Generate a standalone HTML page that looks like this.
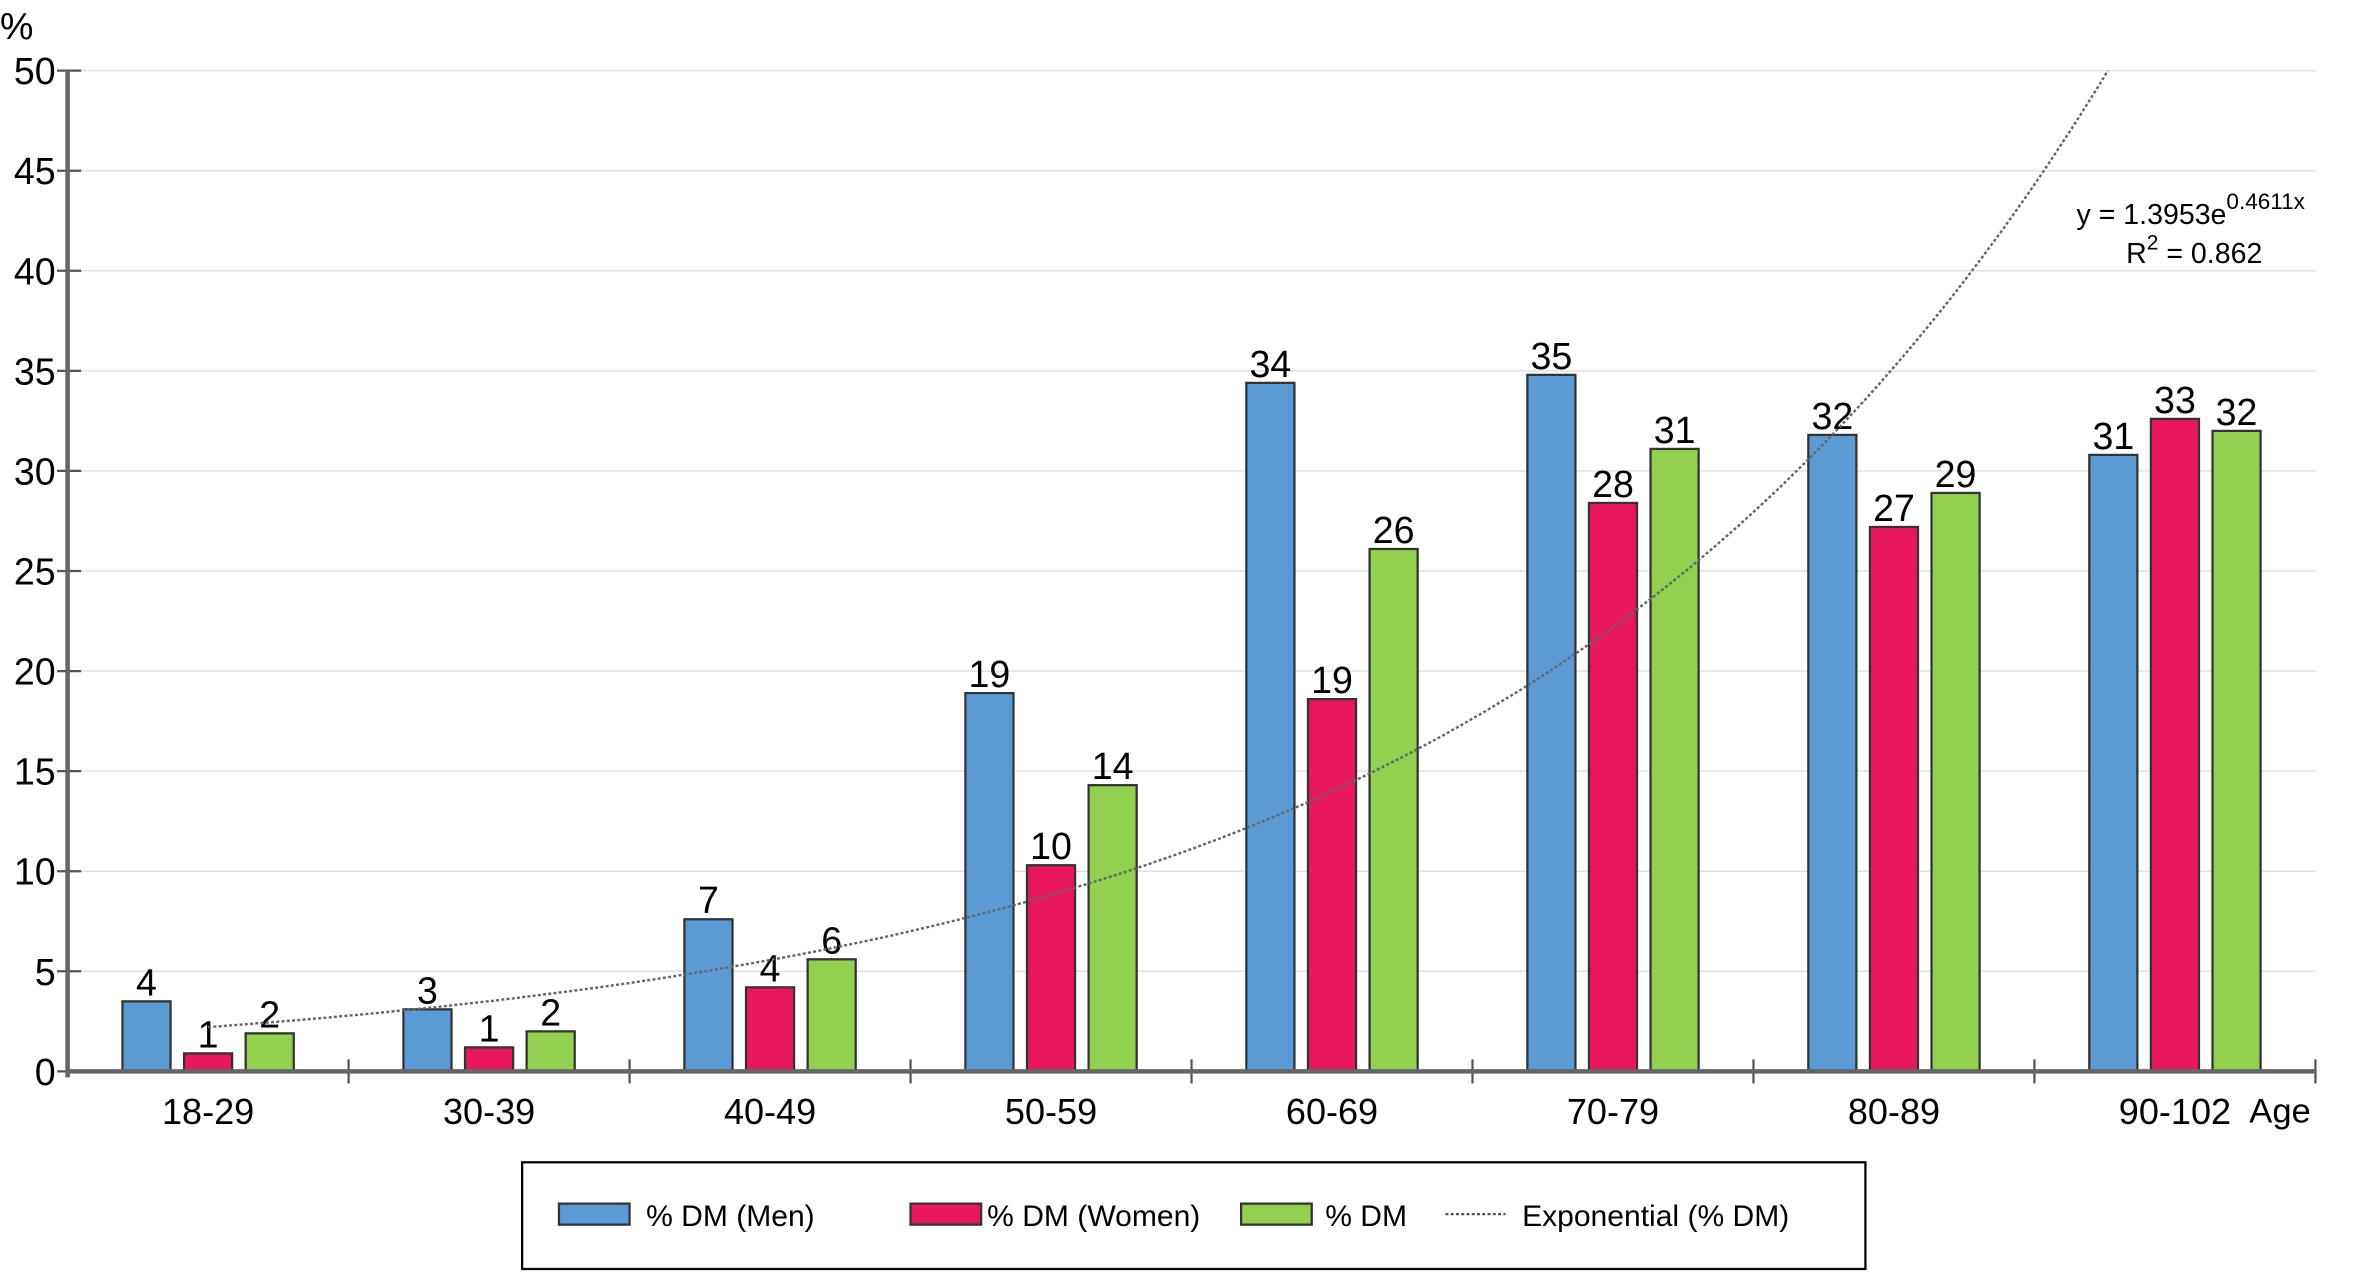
<!DOCTYPE html>
<html><head><meta charset="utf-8"><style>
html,body{margin:0;padding:0;background:#fff;}
svg{display:block;font-family:"Liberation Sans",Arial,sans-serif;}
</style></head><body>
<svg id="chart" width="2356" height="1278" viewBox="0 0 1568 850.5" preserveAspectRatio="none" xmlns="http://www.w3.org/2000/svg">
<g id="grid"></g>
<g id="yaxis"></g>
<g id="bars"></g>
<g id="trend"></g>
<g id="xaxis"></g>
<text x="0" y="26" font-size="25">%</text>
<text x="1497" y="747" font-size="23">Age</text>
<text x="1382" y="149" font-size="19">y = 1.3953e<tspan dy="-10" font-size="15">0.4611x</tspan></text>
<text x="1415" y="175" font-size="19">R<tspan dy="-9" font-size="14">2</tspan><tspan dy="9"> = 0.862</tspan></text>
<g>
<rect x="347.5" y="773.5" width="894" height="71" fill="#fff" stroke="#000" stroke-width="1.5"/>
<rect x="372" y="801" width="47" height="14" fill="#5b9bd5" stroke="#333" stroke-width="1.5"/>
<text x="430" y="816" font-size="20">% DM (Men)</text>
<rect x="606" y="801" width="47" height="14" fill="#e8175d" stroke="#333" stroke-width="1.5"/>
<text x="657" y="816" font-size="20">% DM (Women)</text>
<rect x="826" y="801" width="47" height="14" fill="#92d050" stroke="#333" stroke-width="1.5"/>
<text x="882" y="816" font-size="20">% DM</text>
<line x1="962" y1="808" x2="1002" y2="808" stroke="#555" stroke-width="1.5" stroke-dasharray="2,1.5"/>
<text x="1013" y="816" font-size="20">Exponential (% DM)</text>
</g>
</svg>
<script>
const categories = ["18-29","30-39","40-49","50-59","60-69","70-79","80-89","90-102"];
const menValues = [3.5,3.1,7.6,18.9,34.4,34.8,31.8,30.8];
const womenValues = [0.9,1.2,4.2,10.3,18.6,28.4,27.2,32.6];
const totalValues = [1.9,2.0,5.6,14.3,26.1,31.1,28.9,32.0];
const menLabels = ["4","3","7","19","34","35","32","31"];
const womenLabels = ["1","1","4","10","19","28","27","33"];
const totalLabels = ["2","2","6","14","26","31","29","32"];
const yTicks = [0,5,10,15,20,25,30,35,40,45,50];
const trendA = 1.3953, trendB = 0.4611;

const NS="http://www.w3.org/2000/svg";
const X0=45, GW=187, Y0=713, PPU=13.32, XEND=1541;
const yS=v=>Y0-v*PPU;
const gC=i=>X0+GW*(i+0.5);
function mk(tag,attrs,parent,txt){const e=document.createElementNS(NS,tag);for(const k in attrs)e.setAttribute(k,attrs[k]);if(txt!==undefined)e.textContent=txt;parent.appendChild(e);return e;}
const grid=document.getElementById('grid'),ya=document.getElementById('yaxis'),bars=document.getElementById('bars'),tr=document.getElementById('trend'),xa=document.getElementById('xaxis');
yTicks.forEach(t=>{
  if(t>0){const g=mk('line',{x1:X0,x2:XEND,y1:yS(t),y2:yS(t),stroke:'#e2e2e2','stroke-width':1},grid);
  
  }
  const tk=mk('line',{x1:X0-7,x2:X0+9,y1:yS(t),y2:yS(t),stroke:'#555','stroke-width':1.5},ya);
  
  
  const lb=mk('text',{x:X0-8,y:yS(t)+9,'font-size':25,'text-anchor':'end'},ya,String(t));
  
  
});
const ax=mk('line',{x1:X0,x2:X0,y1:yS(50),y2:Y0+4,stroke:'#666','stroke-width':3},ya);


const series=[[menValues,menLabels,'#5b9bd5',-41,'men'],[womenValues,womenLabels,'#e8175d',0,'women'],[totalValues,totalLabels,'#92d050',41,'total']];
categories.forEach((c,i)=>{
  series.forEach(([vals,labs,col,off,nm])=>{
    const cx=gC(i)+off,w=32,v=vals[i];
    const r=mk('rect',{x:cx-w/2,y:yS(v),width:w,height:v*PPU,fill:col,stroke:'#333','stroke-width':1.5},bars);
    
    
    const t=mk('text',{x:cx,y:yS(v)-4,'font-size':25,'text-anchor':'middle'},bars,labs[i]);
    
    
  });
  const xl=mk('text',{x:gC(i),y:748,'font-size':24,'text-anchor':'middle'},xa,c);
  
  
  const xt=mk('line',{x1:X0+GW*(i+1),x2:X0+GW*(i+1),y1:Y0-8,y2:Y0+8,stroke:'#555','stroke-width':1.5},xa);
  
  
});
const xl0=mk('line',{x1:X0,x2:XEND,y1:Y0,y2:Y0,stroke:'#666','stroke-width':3},xa);


let pts=[];
const xMax=Math.log(50/trendA)/trendB;
for(let k=0;k<=200;k++){const x=1+(Math.min(8,xMax)-1)*k/200;const y=trendA*Math.exp(trendB*x);pts.push((X0+GW*(x-0.5)).toFixed(1)+','+yS(y).toFixed(1));}
const pl=mk('polyline',{points:pts.join(' '),fill:'none',stroke:'#666','stroke-width':1.6,'stroke-dasharray':'2,1.5'},tr);


</script>
</body></html>
